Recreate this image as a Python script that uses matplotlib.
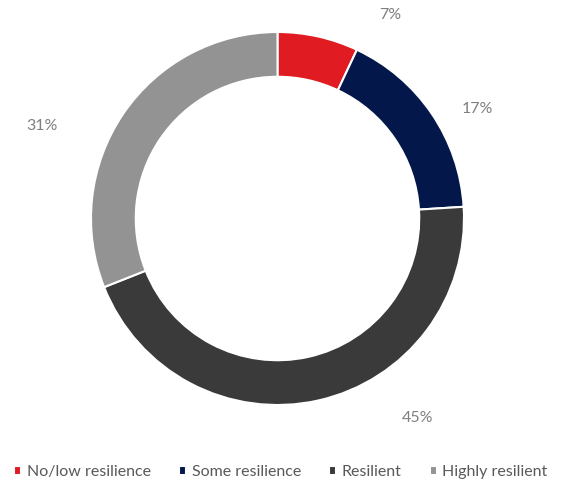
import matplotlib
matplotlib.use("Agg")
import matplotlib.pyplot as plt

categories = ["No/low resilience", "Some resilience", "Resilient", "Highly resilient"]
values = [7, 17, 45, 31]
colors = ["#E01B22", "#03174B", "#3A3A3A", "#939393"]

# label positions (data units, radius 1 = outer edge), Excel-style outside labels
label_pos = [(0.603, 1.091), (1.070, 0.587), (0.753, -1.070), (-1.263, 0.496)]

plt.rcParams['font.family'] = ['Lato', 'DejaVu Sans']

W, H = 571, 483
fig = plt.figure(figsize=(W / 100, H / 100), dpi=100)
cx, cy, R = 277.5, 264.5, 186.5
ax = fig.add_axes([(cx - R) / W, (cy - R) / H, 2 * R / W, 2 * R / H])

wedges, _ = ax.pie(values, colors=colors, startangle=90, counterclock=False,
                   radius=1, wedgeprops=dict(width=0.24, edgecolor="white", linewidth=1.5))
ax.set_xlim(-1, 1)
ax.set_ylim(-1, 1)
ax.set_aspect("equal")
ax.axis("off")

for v, (x, y) in zip(values, label_pos):
    ax.text(x, y, f"{v}%", ha="center", va="center", fontsize=11.5, color="#7F7F7F")

fig.legend(wedges, categories, loc="center", bbox_to_anchor=(0.492, 1 - 472 / H),
           ncol=4, frameon=False, fontsize=11.5, labelcolor="#595959",
           handlelength=0.45, handleheight=0.45, handletextpad=0.35, columnspacing=1.75)

fig.savefig("out.png", dpi=100)
